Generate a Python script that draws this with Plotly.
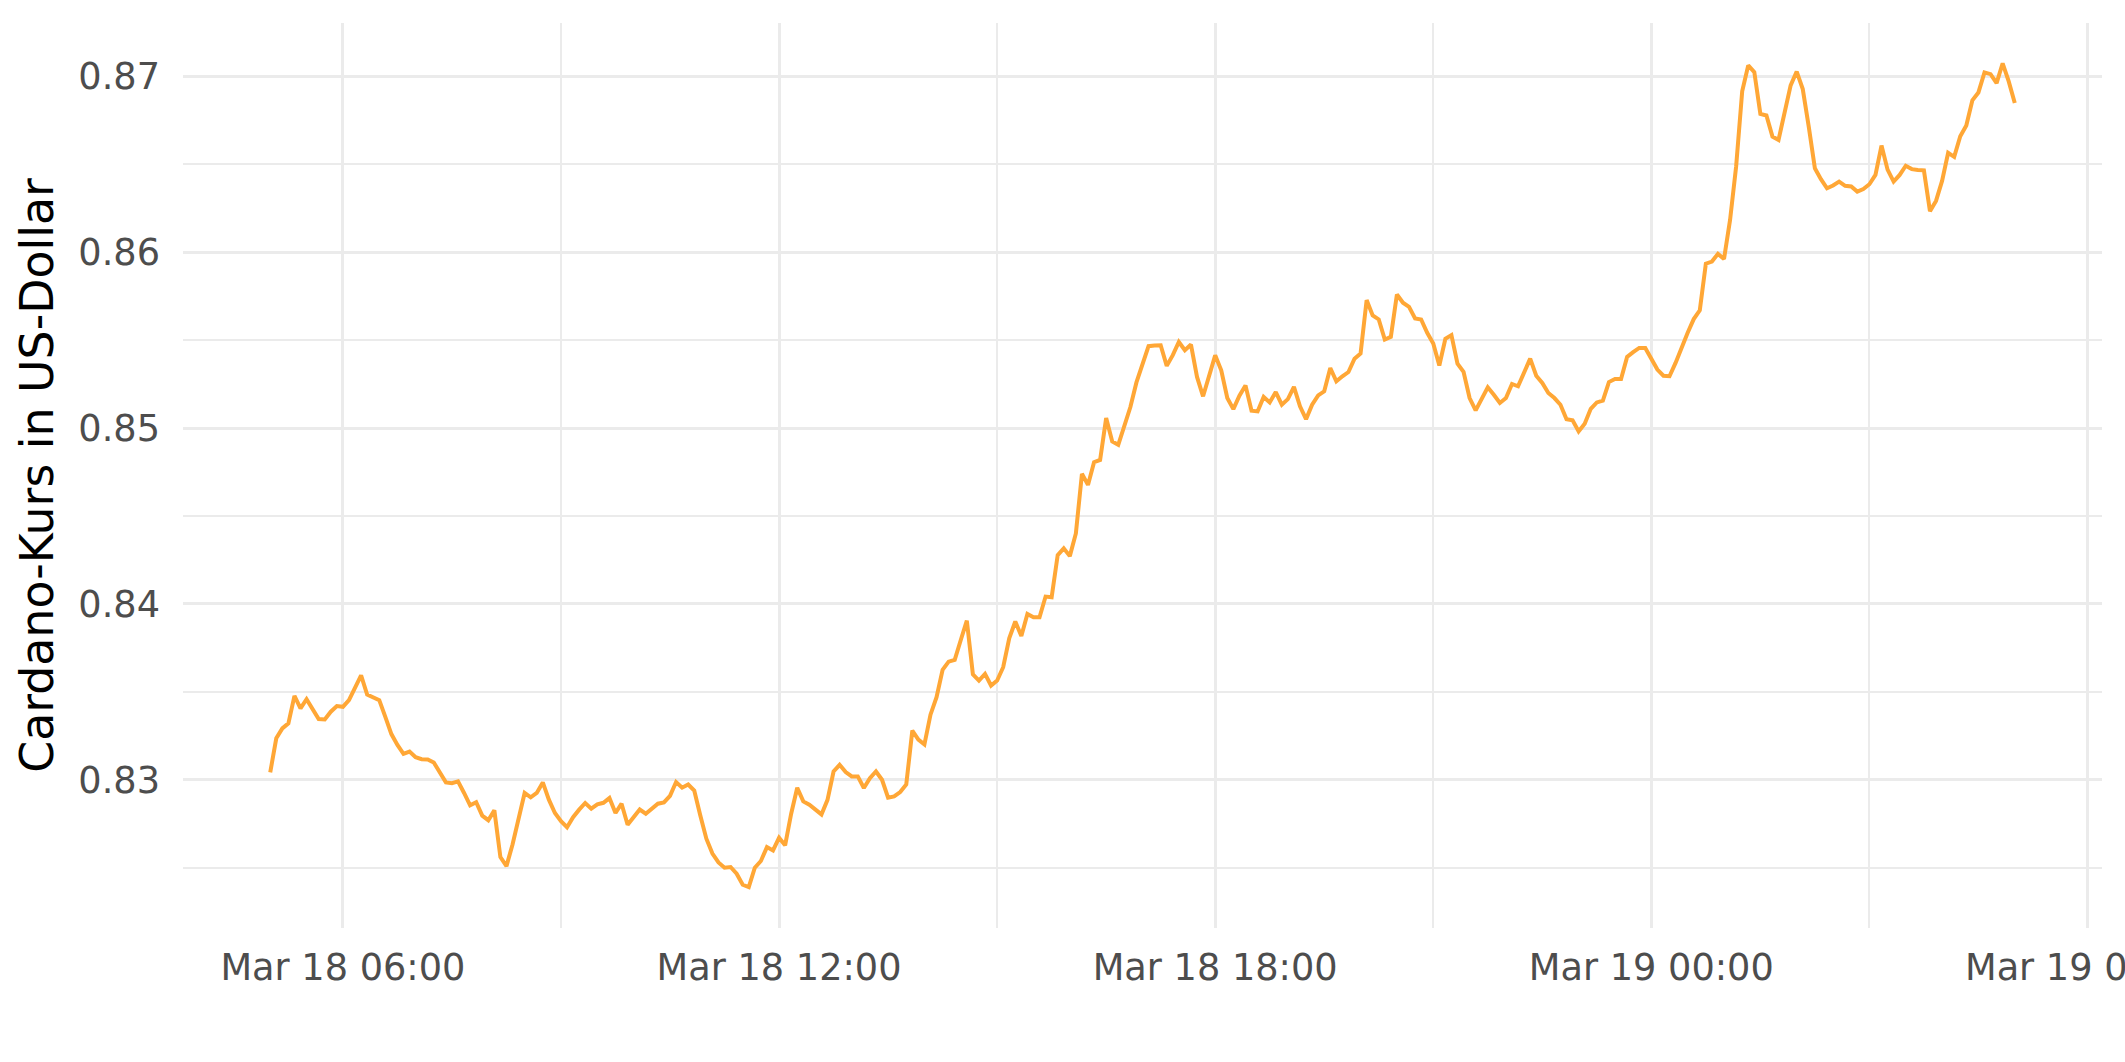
import pandas as pd
import plotly.graph_objects as go

start_time = "2024-03-18 05:00"
step = "5min"

price = [
    0.83042, 0.83236, 0.83292, 0.83321, 0.83477, 0.83406, 0.83458, 0.83396, 0.83345, 0.83343,
    0.83387, 0.83419, 0.83415, 0.83453, 0.83519, 0.83594, 0.83485, 0.83472, 0.83453, 0.83358,
    0.83260, 0.83198, 0.83147, 0.83160, 0.83128, 0.83117, 0.83115, 0.83098, 0.83038, 0.82985,
    0.82981, 0.82991, 0.82925, 0.82855, 0.82872, 0.82796, 0.82770, 0.82826, 0.82560, 0.82509,
    0.82632, 0.82779, 0.82925, 0.82900, 0.82925, 0.82985, 0.82887, 0.82811, 0.82764, 0.82730,
    0.82787, 0.82830, 0.82868, 0.82836, 0.82860, 0.82869, 0.82896, 0.82811, 0.82864, 0.82744,
    0.82788, 0.82831, 0.82807, 0.82839, 0.82864, 0.82871, 0.82909, 0.82987, 0.82955, 0.82973,
    0.82939, 0.82797, 0.82665, 0.82580, 0.82530, 0.82500, 0.82504, 0.82466, 0.82403, 0.82390,
    0.82500, 0.82538, 0.82617, 0.82598, 0.82670, 0.82627, 0.82807, 0.82955, 0.82877, 0.82858,
    0.82830, 0.82803, 0.82886, 0.83047, 0.83085, 0.83044, 0.83019, 0.83019, 0.82953, 0.83009,
    0.83047, 0.83000, 0.82898, 0.82905, 0.82930, 0.82973, 0.83280, 0.83229, 0.83201, 0.83370,
    0.83470, 0.83625, 0.83672, 0.83682, 0.83795, 0.83905, 0.83600, 0.83564, 0.83602, 0.83536,
    0.83564, 0.83640, 0.83805, 0.83900, 0.83818, 0.83943, 0.83924, 0.83924, 0.84042, 0.84038,
    0.84278, 0.84316, 0.84272, 0.84401, 0.84740, 0.84677, 0.84806, 0.84819, 0.85057, 0.84924,
    0.84905, 0.85013, 0.85120, 0.85260, 0.85367, 0.85466, 0.85470, 0.85471, 0.85354, 0.85415,
    0.85490, 0.85443, 0.85475, 0.85291, 0.85181, 0.85291, 0.85414, 0.85329, 0.85171, 0.85108,
    0.85184, 0.85243, 0.85099, 0.85095, 0.85177, 0.85146, 0.85205, 0.85133, 0.85165, 0.85234,
    0.85124, 0.85051, 0.85133, 0.85186, 0.85209, 0.85342, 0.85266, 0.85295, 0.85319, 0.85395,
    0.85424, 0.85728, 0.85641, 0.85618, 0.85504, 0.85519, 0.85760, 0.85713, 0.85690, 0.85624,
    0.85618, 0.85542, 0.85481, 0.85356, 0.85508, 0.85529, 0.85367, 0.85320, 0.85171, 0.85101,
    0.85171, 0.85232, 0.85190, 0.85143, 0.85171, 0.85251, 0.85238, 0.85314, 0.85395, 0.85298,
    0.85257, 0.85200, 0.85171, 0.85133, 0.85051, 0.85044, 0.84981, 0.85025, 0.85110, 0.85146,
    0.85156, 0.85262, 0.85279, 0.85279, 0.85405, 0.85432, 0.85456, 0.85456, 0.85395, 0.85333,
    0.85298, 0.85295, 0.85371, 0.85462, 0.85542, 0.85620, 0.85670, 0.85935, 0.85947, 0.85991,
    0.85962, 0.86184, 0.86488, 0.86915, 0.87063, 0.87025, 0.86787, 0.86778, 0.86658, 0.86639,
    0.86787, 0.86949, 0.87028, 0.86928, 0.86712, 0.86478, 0.86416, 0.86364, 0.86380, 0.86402,
    0.86378, 0.86374, 0.86345, 0.86360, 0.86387, 0.86440, 0.86607, 0.86470, 0.86402, 0.86440,
    0.86492, 0.86473, 0.86468, 0.86466, 0.86234, 0.86292, 0.86406, 0.86566, 0.86543, 0.86660,
    0.86721, 0.86864, 0.86909, 0.87023, 0.87013, 0.86962, 0.87075, 0.86972, 0.86849,
]

times = pd.date_range(start_time, periods=len(price), freq=step)

x_range = ["2024-03-18 03:48", "2024-03-19 06:12"]
y_range = [0.82157, 0.87304]

y_title = "Cardano-Kurs in US-Dollar"

grid_major = "#ebebeb"
tick_color = "#4d4d4d"
font_family = "DejaVu Sans"
tick_size = 36.7
title_size = 45.8

fig = go.Figure()
fig.add_trace(go.Scatter(
    x=times, y=price, mode="lines",
    line=dict(color="#FFA736", width=4),
    hoverinfo="x+y", showlegend=False,
))

fig.update_layout(
    width=2125, height=1062,
    margin=dict(l=183, r=23, t=23, b=134),
    paper_bgcolor="white", plot_bgcolor="white",
    font=dict(family=font_family, size=tick_size, color=tick_color),
    showlegend=False,
)

fig.update_xaxes(
    type="date",
    range=x_range,
    dtick=6 * 3600 * 1000,
    tick0="2024-03-18 00:00",
    tickformat="%b %d %H:%M",
    showgrid=True, gridcolor=grid_major, gridwidth=3.3,
    minor=dict(dtick=3 * 3600 * 1000, tick0="2024-03-18 00:00",
               showgrid=True, gridcolor=grid_major, gridwidth=1.7),
    zeroline=False, showline=False, ticks="",
    tickfont=dict(family=font_family, size=tick_size, color=tick_color),
    ticklabelstandoff=14,
    ticklabeloverflow="allow",
    automargin=False,
)

fig.update_yaxes(
    range=y_range,
    dtick=0.01, tick0=0.0,
    tickformat=".2f",
    showgrid=True, gridcolor=grid_major, gridwidth=3.3,
    minor=dict(dtick=0.005, tick0=0.0,
               showgrid=True, gridcolor=grid_major, gridwidth=1.7),
    zeroline=False, showline=False, ticks="",
    tickfont=dict(family=font_family, size=tick_size, color=tick_color),
    ticklabelstandoff=22,
    title=dict(text=y_title, font=dict(family=font_family, size=title_size, color="black"),
               standoff=10),
    automargin=False,
)

fig.write_html(
    "out.html",
    config={"displayModeBar": False},
    post_script="document.body.style.margin='0';document.body.style.overflow='hidden';",
)
